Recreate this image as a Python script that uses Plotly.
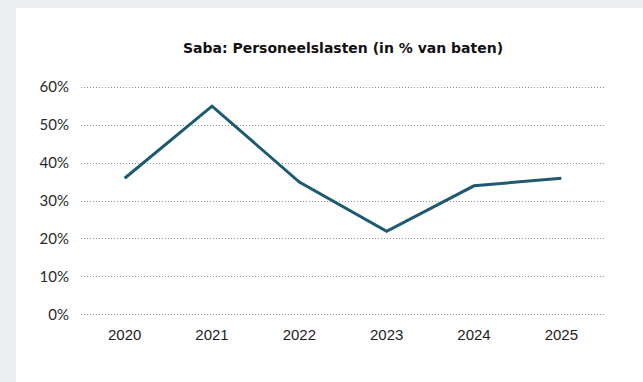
import plotly.graph_objects as go

years = ["2020", "2021", "2022", "2023", "2024", "2025"]
personnel_share = [0.36, 0.55, 0.35, 0.22, 0.34, 0.36]
y_ticks = [0, 0.1, 0.2, 0.3, 0.4, 0.5, 0.6]
y_tick_labels = ["0%", "10%", "20%", "30%", "40%", "50%", "60%"]

W, H = 643, 382
L, R, T, B = 81, 38, 86, 66
plot_w = W - L - R
plot_h = H - T - B

fig = go.Figure()
fig.add_trace(go.Scatter(
    x=years, y=personnel_share, mode="lines",
    line=dict(color="#1d5a72", width=3),
    hoverinfo="skip", showlegend=False,
))

band = "#eceff2"
# gray frame strips along the top and left edges of the page
fig.add_shape(type="rect", xref="paper", yref="paper",
              x0=-L / plot_w, x1=(W - L) / plot_w,
              y0=(H - 8 - B) / plot_h, y1=(H - B) / plot_h,
              fillcolor=band, line_width=0, layer="below")
fig.add_shape(type="rect", xref="paper", yref="paper",
              x0=-L / plot_w, x1=(16 - L) / plot_w,
              y0=-B / plot_h, y1=(H - B) / plot_h,
              fillcolor=band, line_width=0, layer="below")

fig.update_layout(
    width=W, height=H,
    margin=dict(l=L, r=R, t=T, b=B),
    paper_bgcolor="white", plot_bgcolor="white",
    title=dict(text="<b>Saba: Personeelslasten (in % van baten)</b>",
               x=(L + plot_w / 2) / W, xanchor="center",
               y=1 - 48 / H, yanchor="middle",
               font=dict(family="DejaVu Sans", size=14, color="#111111")),
    xaxis=dict(type="category", range=[-0.5, 5.5],
               showgrid=False, zeroline=False, showline=False,
               ticks="outside", ticklen=5, tickcolor="rgba(0,0,0,0)",
               tickfont=dict(family="Liberation Sans", size=15, color="#222222")),
    yaxis=dict(range=[-0.003, 0.603], tickvals=y_ticks, ticktext=y_tick_labels,
               showgrid=True, gridcolor="#8f8f8f", griddash="1px,2px", gridwidth=1,
               zeroline=False, showline=False,
               ticks="outside", ticklen=8, tickcolor="rgba(0,0,0,0)",
               tickfont=dict(family="Lato", size=15, color="#2a2a2a")),
    font=dict(family="Lato"),
)

fig.write_html("out.html")
